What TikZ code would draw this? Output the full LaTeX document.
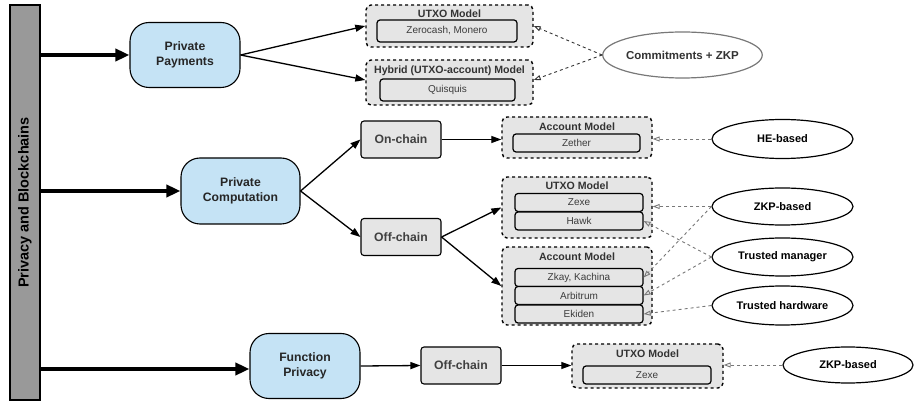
\documentclass[tikz,border=0pt]{standalone}
\usepackage{fontspec}
\setmainfont{Liberation Sans}
\usetikzlibrary{arrows.meta,shapes.geometric}
\definecolor{topicblue}{RGB}{197,227,245}
\definecolor{boxgray}{RGB}{229,229,229}
\definecolor{bargray}{RGB}{153,153,153}
\definecolor{itemtext}{RGB}{60,60,60}
\definecolor{linkgray}{RGB}{120,120,120}

\begin{document}
\begin{tikzpicture}[
  x=1pt, y=-1pt,
  bar/.style={draw, fill=bargray, line width=1.3pt, rotate=90, inner sep=0pt,
    font=\bfseries\fontsize{14.5}{16}\selectfont},
  topic/.style={draw, fill=topicblue, line width=1.1pt, rounded corners=19pt,
    minimum width=110pt, minimum height=65pt, align=center, inner sep=0pt,
    font=\bfseries\fontsize{12.2}{15}\selectfont, text=black!85},
  chain/.style={draw, fill=boxgray, line width=1.1pt, rounded corners=3pt,
    minimum width=80pt, minimum height=37pt, inner sep=0pt,
    font=\bfseries\fontsize{12.2}{14}\selectfont, text=black!75},
  group/.style={draw, dashed, fill=boxgray, line width=1.4pt, rounded corners=5pt,
    inner sep=0pt},
  grouptitle/.style={font=\bfseries\fontsize{10.6}{12}\selectfont, text=black!80, inner sep=0pt},
  item/.style={draw, fill=boxgray, line width=1.2pt, rounded corners=3pt,
    minimum width=128pt, minimum height=18pt, inner sep=0pt,
    font=\fontsize{10}{11}\selectfont, text=itemtext},
  approach/.style={draw, ellipse, fill=white, line width=1.2pt, inner sep=0pt,
    minimum width=141pt, minimum height=39pt,
    font=\bfseries\fontsize{11}{13}\selectfont},
  trunk/.style={-{Triangle[length=14pt,width=12pt]}, line width=4.5pt},
  flow/.style={-{Triangle[length=10pt,width=7pt]}, line width=1.3pt},
  link/.style={-{Triangle[open,length=7pt,width=5pt]}, dashed, linkgray, line width=0.9pt},
]
\useasboundingbox (0,0) rectangle (916,403);

% -------------------------------------------------------------------------
% Root bar and the three privacy goals.
% -------------------------------------------------------------------------
\node[bar, minimum width=395pt, minimum height=30pt] (root) at (25,202.5)
  {Privacy and Blockchains};

\node[topic] (pay) at (185,55) {Private\\Payments};
\node[topic, minimum width=119pt, minimum height=66pt] (comp) at (240.5,191) {Private\\Computation};
\node[topic] (func) at (305,366) {Function\\Privacy};

\draw[trunk] (root.south |- pay.west) -- (pay.west);
\draw[trunk] (root.south |- comp.west) -- (comp.west);
\draw[trunk] (root.south |- 0,369) -- (func.west |- 0,369);

% -------------------------------------------------------------------------
% Private payments: UTXO and hybrid models.
% -------------------------------------------------------------------------
\node[group, minimum width=167pt, minimum height=42pt] (payutxo) at (449.5,26) {};
\node[grouptitle] (payutxot) at (449.5,14) {UTXO Model};
\node[item, minimum width=140pt, minimum height=22pt] (zerocash) at (447,31) {Zerocash, Monero};

\node[group, minimum width=167pt, minimum height=45pt] (payhyb) at (449.5,82.5) {};
\node[grouptitle] (payhybt) at (449.5,71) {Hybrid (UTXO-account) Model};
\node[item, minimum width=135pt, minimum height=22pt] (quisquis) at (447.5,90) {Quisquis};

\node[approach, draw=linkgray, minimum width=139pt, minimum height=46pt,
      font=\bfseries\fontsize{11.5}{13}\selectfont, text=black!80] (commit) at (682.5,55)
  {Commitments + ZKP};

\draw[flow] (pay.east) -- (payutxo.west);
\draw[flow] (pay.east) -- (payhyb.west |- 0,80);
% these two links are drawn darker than the others
\draw[link, draw=black!80] (commit.west) -- (payutxo.east);
\draw[link, draw=black!80] (commit.west) -- (payhyb.east |- 0,80);

% -------------------------------------------------------------------------
% Private computation: on-chain and off-chain.
% -------------------------------------------------------------------------
\node[chain] (onchain) at (401,139.5) {On-chain};
\node[chain] (offchain) at (401,237) {Off-chain};

\node[group, minimum width=150pt, minimum height=41pt] (onacct) at (577,137.5) {};
\node[grouptitle] (onacctt) at (577,127) {Account Model};
\node[item, minimum width=127pt] (zether) at (576.5,143) {Zether};

\node[group, minimum width=150pt, minimum height=61pt] (offutxo) at (577,207.5) {};
\node[grouptitle] (offutxot) at (577,186) {UTXO Model};
\node[item] (zexe) at (579,202.5) {Zexe};
\node[item] (hawk) at (579,221) {Hawk};

\node[group, minimum width=150pt, minimum height=78pt] (offacct) at (577,286) {};
\node[grouptitle] (offacctt) at (577,257) {Account Model};
\node[item] (zkay) at (579,277.5) {Zkay, Kachina};
\node[item] (arbitrum) at (579,295.5) {Arbitrum};
\node[item] (ekiden) at (579,314) {Ekiden};

\node[approach] (he) at (782.5,139) {HE-based};
\node[approach, minimum height=37pt] (zkp) at (782.5,206.5) {ZKP-based};
\node[approach, minimum height=38pt] (trusted) at (782.5,257) {Trusted manager};
\node[approach] (hardware) at (782.5,305.5) {Trusted hardware};

\draw[flow] (comp.east) -- (onchain.west);
\draw[flow] (comp.east) -- (offchain.west);
\draw[flow] (onchain.east) -- (onacct.west |- onchain.east);
\draw[flow] (offchain.east) -- (offutxo.west);
\draw[flow] (offchain.east) -- (offacct.west);

\draw[link] (he.west) -- (onacct.east |- he.west);
\draw[link] (zkp.west) -- (offutxo.east |- zkp.west);
\draw[link] (zkp.west) -- (zkay.east);
\draw[link] (trusted.west) -- (hawk.east);
\draw[link] (trusted.west) -- (arbitrum.east);
\draw[link] (hardware.west) -- (ekiden.east);

% -------------------------------------------------------------------------
% Function privacy: off-chain only.
% -------------------------------------------------------------------------
\node[chain] (funcoff) at (461,365.5) {Off-chain};

\node[group, minimum width=151pt, minimum height=44pt] (funcutxo) at (647.5,366) {};
\node[grouptitle] (funcutxot) at (647.5,354) {UTXO Model};
\node[item] (zexefunc) at (647,375) {Zexe};

\node[approach, minimum width=130pt, minimum height=36pt] (zkpfunc) at (848,365) {ZKP-based};

\draw[flow] (func.east) -- (funcoff.west);
\draw[flow] (funcoff.east) -- (funcutxo.west |- funcoff.east);
\draw[link] (zkpfunc.west) -- (funcutxo.east |- zkpfunc.west);

\end{tikzpicture}
\end{document}
